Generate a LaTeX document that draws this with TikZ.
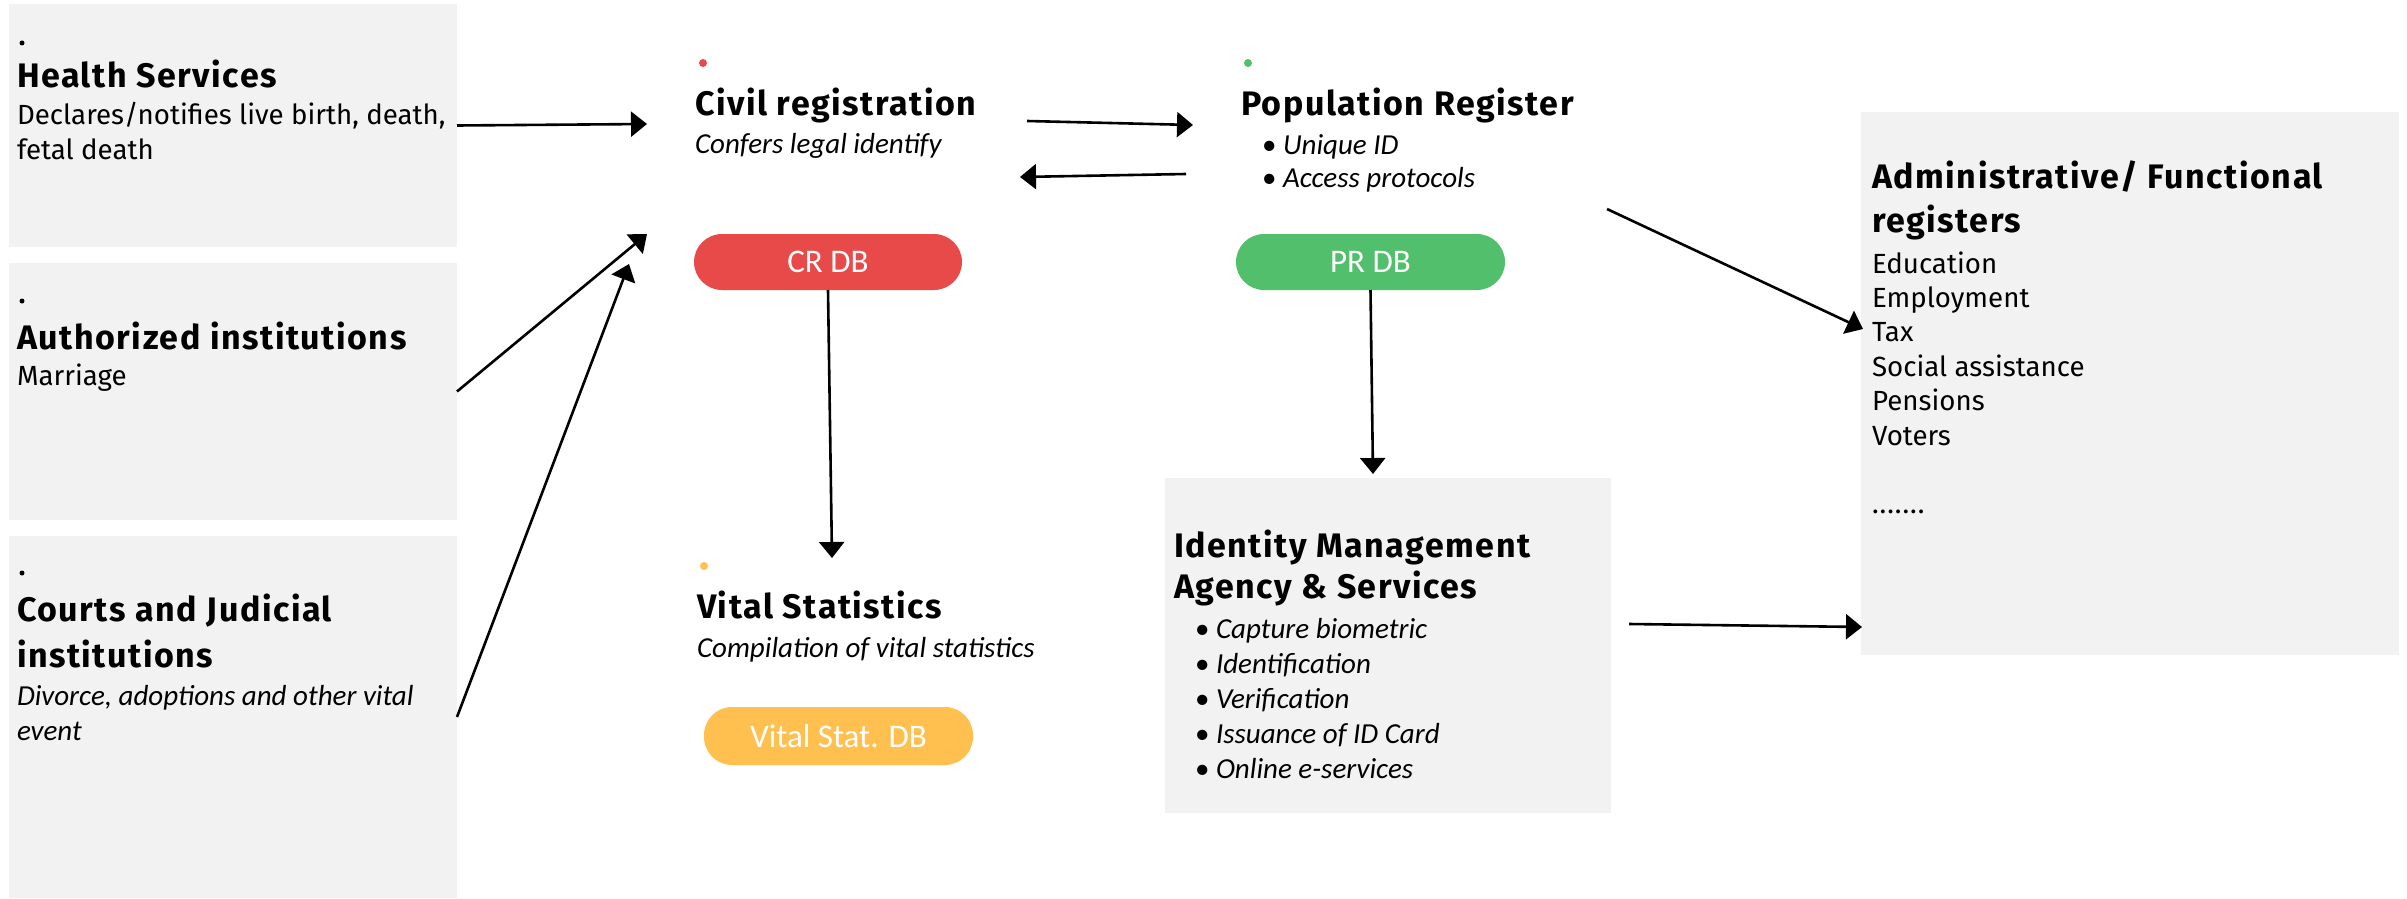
\documentclass[tikz,border=0pt]{standalone}
\usepackage{fontspec}
\setmainfont{Fira Sans}
\newfontfamily\carlito{Carlito}
\usetikzlibrary{arrows.meta}
\definecolor{boxgray}{HTML}{F2F2F2}
\definecolor{crred}{HTML}{E84A4A}
\definecolor{prgreen}{HTML}{52BF6C}
\definecolor{vsyellow}{HTML}{FFC04F}
\tikzset{
  txt/.style={anchor=base west, inner sep=0pt, outer sep=0pt},
  ttl/.style={txt, font=\fontsize{34}{40}\selectfont\bfseries\addfontfeatures{LetterSpace=4.5}},
  bdy/.style={txt, font=\fontsize{27.7}{34}\selectfont},
  itl/.style={txt, font=\carlito\itshape\fontsize{29}{35}\selectfont},
  bul/.style={txt, font=\carlito\fontsize{29}{35}\selectfont},
  graybox/.style={fill=boxgray, draw=none, inner sep=0pt, outer sep=0pt, anchor=north west},
  pill/.style={rounded corners=28pt, inner sep=0pt, outer sep=0pt, text=white,
    font=\carlito\fontsize{33}{40}\selectfont, minimum height=56pt},
  bdot/.style={circle, fill=black, inner sep=0pt, minimum size=5pt},
  cdot/.style={circle, fill=#1, inner sep=0pt, minimum size=8pt},
  arr/.style={-{Triangle[length=16pt,width=25pt]}, line width=2.6pt, black},
}
\begin{document}
\begin{tikzpicture}[x=1pt,y=-1pt]
\useasboundingbox (0,0) rectangle (2407,899);
% gray boxes
\node[graybox, minimum width=448pt, minimum height=243pt] (hs) at (9,4) {};
\node[graybox, minimum width=448pt, minimum height=257pt] (as) at (9,263) {};
\node[graybox, minimum width=448pt, minimum height=362pt] (ct) at (9,536) {};
\node[graybox, minimum width=446pt, minimum height=335pt] (idm) at (1165,478) {};
\node[graybox, minimum width=538pt, minimum height=543pt] (ad) at (1861,112) {};
% Health services
\node[bdot] (hsdot) at (22,43) {};
\node[ttl] (hst) at (17,88) {Health Services};
\node[bdy] (hsb1) at (17,124) {Declares/notifies live birth, death,};
\node[bdy] (hsb2) at (17,159) {fetal death};
% Authorized
\node[bdot] (asdot) at (22,301) {};
\node[ttl] (ast) at (17,349) {Authorized institutions};
\node[bdy] (asb) at (17,385) {Marriage};
% Courts
\node[bdot] (ctdot) at (22,573) {};
\node[ttl] (ctt1) at (17,621) {Courts and Judicial};
\node[ttl] (ctt2) at (17,667) {institutions};
\node[itl] (ctb1) at (17,705) {Divorce, adoptions and other vital};
\node[itl] (ctb2) at (17,740) {event};
% Civil registration
\node[cdot=crred] (crdot) at (703,63) {};
\node[ttl] (crt) at (695,115) {Civil registration};
\node[itl] (crb) at (695,153) {Confers legal identify};
\node[pill, fill=crred, minimum width=268pt] (crdb) at (828,262) {CR DB};
% Population register
\node[cdot=prgreen] (prdot) at (1248,63) {};
\node[ttl] (prt) at (1241,115) {Population Register};
\node[bul] (prbu1) at (1262,154) {•};
\node[itl] (prb1) at (1283,154) {Unique ID};
\node[bul] (prbu2) at (1262,187) {•};
\node[itl] (prb2) at (1283,187) {Access protocols};
\node[pill, fill=prgreen, minimum width=269pt] (prdb) at (1370.5,262) {PR DB};
% Vital statistics
\node[cdot=vsyellow] (vsdot) at (704,566) {};
\node[ttl] (vst) at (697,618) {Vital Statistics};
\node[itl] (vsb) at (697,657) {Compilation of vital statistics};
\node[pill, fill=vsyellow, minimum width=269pt, minimum height=58pt] (vsdb) at (838.5,736) {Vital Stat. DB};
% Identity management
\node[ttl] (idt1) at (1174,557) {Identity Management};
\node[ttl] (idt2) at (1174,598) {Agency \& Services};
\foreach \t/\yy/\nm in {Capture biometric/638/a, Identification/673/b, Verification/708/c, Issuance of ID Card/743/d, Online e-services/778/e}{
  \node[bul] (idbu\nm) at (1195,\yy) {•};
  \node[itl] (idb\nm) at (1216,\yy) {\t};
}
% Administrative registers
\node[ttl] (adt1) at (1872,188) {Administrative/ Functional};
\node[ttl] (adt2) at (1872,232) {registers};
\foreach \t/\yy/\nm in {Education/273/a, Employment/307/b, Tax/341/c, Social assistance/376/d, Pensions/410/e, Voters/445/f}{
  \node[bdy] (adb\nm) at (1872,\yy) {\t};
}
\node[bdy] (adbg) at (1872,513) {.\kern1pt.\kern1pt.\kern1pt.\kern1pt.\kern1pt.\kern1pt.};
% arrow end coordinates
\coordinate (crin1) at (647,124);
\coordinate (crin2) at (647,234);
\coordinate (crin3) at (629,264);
\coordinate (crout) at (1027,121);
\coordinate (prin) at (1193,125);
\coordinate (prout) at (1186,174);
\coordinate (crback) at (1020,177);
\coordinate (vsin) at (832,558);
\coordinate (idin) at (1373,474);
\coordinate (prdiag) at (1607,209);
\coordinate (adin1) at (1863,329);
\coordinate (idout) at (1629,624);
\coordinate (adin2) at (1862,627);
% arrows
\draw[arr] (hs.east) -- (crin1);
\draw[arr] (as.east) -- (crin2);
\draw[arr] (ct.east) -- (crin3);
\draw[arr] (crout) -- (prin);
\draw[arr] (prout) -- (crback);
\draw[arr] (crdb.south) -- (vsin);
\draw[arr] (prdb.south) -- (idin);
\draw[arr] (prdiag) -- (adin1);
\draw[arr] (idout) -- (adin2);
\end{tikzpicture}
\end{document}
